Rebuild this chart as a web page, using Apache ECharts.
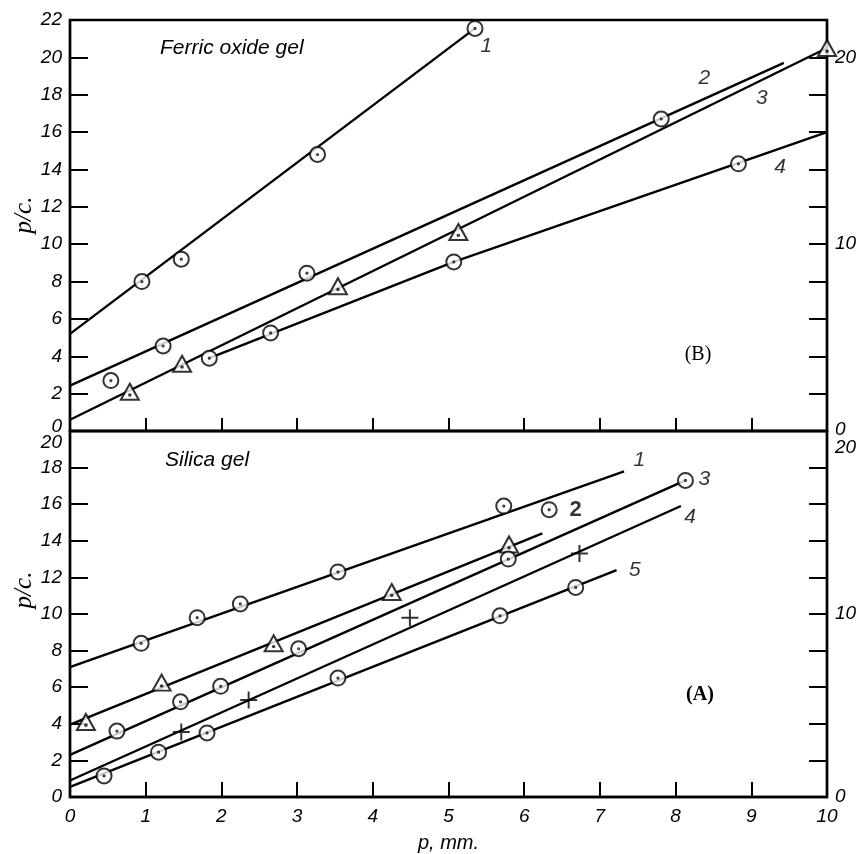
<!DOCTYPE html>
<html>
<head>
<meta charset="utf-8">
<script src="https://cdn.jsdelivr.net/npm/echarts@6/dist/echarts.min.js"></script>
<style>
  html, body { margin: 0; padding: 0; background: #fff; }
  #chart { width: 864px; height: 854px; }
</style>
</head>
<body>
<div id="chart"></div>
<script>
// (B) Ferric oxide gel — measured points and fitted lines
const ferric1Pts = [[0.95, 8.0], [1.47, 9.2], [3.27, 14.8], [5.35, 21.55]];
const ferric1Fit = [[0, 5.2], [5.35, 21.55]];
const ferric2Pts = [[1.23, 4.55], [3.13, 8.45], [7.81, 16.7]];
const ferric2Fit = [[0, 2.43], [9.43, 19.7]];
const ferric3Pts = [[0.79, 2.1], [1.48, 3.6], [3.54, 7.75], [5.13, 10.65], [10.0, 20.5]];
const ferric3Fit = [[0, 0.6], [10, 20.5]];
const ferric4Pts = [[0.54, 2.7], [1.84, 3.9], [2.65, 5.25], [5.07, 9.05], [8.83, 14.3]];
const ferric4Fit = [[1.84, 3.9], [5.07, 9.05], [10, 16.0]];
const ferricTags = [
  { value: [5.5, 20.6], name: '1' },
  { value: [8.38, 18.9], name: '2' },
  { value: [9.14, 17.8], name: '3' },
  { value: [9.38, 14.1], name: '4' }
];

// (A) Silica gel
const silica1Pts = [[0.94, 8.4], [1.68, 9.8], [2.25, 10.55], [3.54, 12.3], [5.73, 15.9]];
const silica1Fit = [[0, 7.1], [7.32, 17.8]];
const silica2Pts = [[0.21, 4.1], [1.21, 6.25], [2.69, 8.4], [4.25, 11.2], [5.8, 13.8]];
const silica2Odd = [[6.33, 15.7]];
const silica2Fit = [[0, 3.95], [6.24, 14.4]];
const silica3Pts = [[0.62, 3.6], [1.46, 5.2], [1.99, 6.05], [3.02, 8.1], [5.79, 13.0], [8.13, 17.3]];
const silica3Fit = [[0, 2.3], [8.13, 17.3]];
const silica4Pts = [[1.47, 3.55], [2.36, 5.3], [4.49, 9.8], [6.73, 13.3]];
const silica4Fit = [[0, 0.9], [8.07, 15.9]];
const silica5Pts = [[0.45, 1.15], [1.17, 2.45], [1.81, 3.5], [3.54, 6.5], [5.68, 9.9], [6.68, 11.45]];
const silica5Fit = [[0, 0.55], [7.22, 12.4]];
const silicaTags = [
  { value: [7.52, 18.4], name: '1' },
  { value: [8.38, 17.35], name: '3' },
  { value: [8.19, 15.3], name: '4' },
  { value: [7.46, 12.4], name: '5' }
];
const silicaBoldTags = [{ value: [6.68, 15.7], name: '2' }];

const pMax = [22, 20];
const rightLabels = [0, 10, 20];

// marker shapes: dotted circle, dotted triangle, plus
const DOT_CIRCLE = 'path://M0,-10A10,10 0 1,1 0,10A10,10 0 1,1 0,-10Z M0,-0.8A0.8,0.8 0 1,1 0,0.8A0.8,0.8 0 1,1 0,-0.8Z';
const DOT_TRI = 'path://M0,-10L9.5,7L-9.5,7Z M0,1.2A0.8,0.8 0 1,1 0,2.8A0.8,0.8 0 1,1 0,1.2Z';
const PLUS = 'path://M0,-10L0,10M-10,0L10,0';

const tickFont = { fontFamily: 'Liberation Sans', fontStyle: 'italic', fontSize: 19, color: '#000' };

function fit(data, grid) {
  return {
    type: 'line', data: data, xAxisIndex: grid, yAxisIndex: grid * 2,
    symbol: 'none', lineStyle: { color: '#000', width: 2.4 }, z: 2, silent: true
  };
}
function pts(data, grid, symbol, size) {
  return {
    type: 'scatter', data: data, xAxisIndex: grid, yAxisIndex: grid * 2,
    symbol: symbol, symbolSize: size, clip: false, z: 3,
    itemStyle: { color: '#fff', borderColor: '#000', borderWidth: 2 }
  };
}
function tags(data, grid, style) {
  return {
    type: 'scatter', data: data, xAxisIndex: grid, yAxisIndex: grid * 2,
    symbolSize: 0, z: 4, silent: true,
    label: Object.assign({
      show: true, position: [0, 0], align: 'center', verticalAlign: 'middle',
      formatter: p => p.name
    }, style)
  };
}

function leftAxis(grid) {
  return {
    type: 'value', gridIndex: grid, position: 'left', min: 0, max: pMax[grid], interval: 2,
    axisLine: { show: true, lineStyle: { color: '#000', width: 2.4 } },
    axisTick: { show: true, inside: true, length: 18, lineStyle: { color: '#000', width: 2 } },
    splitLine: { show: false },
    axisLabel: Object.assign({}, tickFont, {
      margin: 8,
      formatter: v => (grid === 0 && v === 0) ? '{up|0}' : (grid === 1 && v === 20) ? '{dn|20}' : String(v),
      rich: {
        up: Object.assign({}, tickFont, { padding: [0, 0, 8, 0] }),
        dn: Object.assign({}, tickFont, { padding: [24, 0, 0, 0] })
      }
    })
  };
}
function rightAxis(grid) {
  return {
    type: 'value', gridIndex: grid, position: 'right', min: 0, max: pMax[grid], interval: 2,
    axisLine: { show: true, lineStyle: { color: '#000', width: 2.4 } },
    axisTick: { show: true, inside: true, length: 18, lineStyle: { color: '#000', width: 2 } },
    splitLine: { show: false },
    axisLabel: Object.assign({}, tickFont, {
      margin: 8,
      formatter: v => {
        if (rightLabels.indexOf(v) < 0) return '';
        if (grid === 0 && v === 0) return '{up|0}';
        if (grid === 1 && v === 20) return '{dn|20}';
        return String(v);
      },
      rich: {
        up: Object.assign({}, tickFont, { padding: [0, 0, 2, 0] }),
        dn: Object.assign({}, tickFont, { padding: [34, 0, 0, 0] })
      }
    })
  };
}

const chart = echarts.init(document.getElementById('chart'), null, { renderer: 'canvas' });
chart.setOption({
  backgroundColor: '#fff',
  animation: false,
  grid: [
    { left: 70, top: 20, width: 757, height: 411, show: true, borderColor: '#000', borderWidth: 2.4 },
    { left: 70, top: 431, width: 757, height: 372, show: true, borderColor: '#000', borderWidth: 2.4 }
  ],
  xAxis: [
    {
      type: 'value', gridIndex: 0, min: 0, max: 10, interval: 1,
      axisLine: { lineStyle: { color: '#000', width: 2.4 } },
      axisTick: { inside: true, length: 13, lineStyle: { color: '#000', width: 2 } },
      axisLabel: { show: false }, splitLine: { show: false }
    },
    {
      type: 'value', gridIndex: 1, min: 0, max: 10, interval: 1,
      axisLine: { lineStyle: { color: '#000', width: 2.4 } },
      axisTick: { inside: true, length: 15, lineStyle: { color: '#000', width: 2 } },
      axisLabel: Object.assign({}, tickFont, { margin: 10 }),
      splitLine: { show: false },
      name: 'p, mm.', nameLocation: 'middle', nameGap: 36,
      nameTextStyle: { fontFamily: 'Liberation Sans', fontStyle: 'italic', fontSize: 20, color: '#000' }
    }
  ],
  yAxis: [leftAxis(0), rightAxis(0), leftAxis(1), rightAxis(1)],
  graphic: [
    { type: 'text', left: 160, top: 38, style: { text: 'Ferric oxide gel', font: 'italic 21px "Liberation Sans"', fill: '#000' } },
    { type: 'text', left: 165, top: 450, style: { text: 'Silica gel', font: 'italic 21px "Liberation Sans"', fill: '#000' } },
    { type: 'text', x: 698, y: 355, style: { text: '(B)', font: '20px "Liberation Serif"', fill: '#000', align: 'center', verticalAlign: 'middle' } },
    { type: 'text', x: 700, y: 695, style: { text: '(A)', font: 'bold 20px "Liberation Serif"', fill: '#000', align: 'center', verticalAlign: 'middle' } },
    { type: 'text', x: 24, y: 215, rotation: Math.PI / 2, style: { text: 'p/c.', font: 'italic 25px "Liberation Serif"', fill: '#000', align: 'center', verticalAlign: 'middle' } },
    { type: 'text', x: 24, y: 590, rotation: Math.PI / 2, style: { text: 'p/c.', font: 'italic 25px "Liberation Serif"', fill: '#000', align: 'center', verticalAlign: 'middle' } }
  ],
  series: [
    fit(ferric1Fit, 0), fit(ferric2Fit, 0), fit(ferric3Fit, 0), fit(ferric4Fit, 0),
    pts(ferric1Pts, 0, DOT_CIRCLE, 15),
    pts(ferric2Pts, 0, DOT_CIRCLE, 15),
    pts(ferric3Pts, 0, DOT_TRI, [18, 16]),
    pts(ferric4Pts, 0, DOT_CIRCLE, 15),
    tags(ferricTags, 0, { fontFamily: 'Liberation Sans', fontStyle: 'italic', fontSize: 21, color: '#000' }),

    fit(silica1Fit, 1), fit(silica2Fit, 1), fit(silica3Fit, 1), fit(silica4Fit, 1), fit(silica5Fit, 1),
    pts(silica1Pts, 1, DOT_CIRCLE, 15),
    pts(silica2Pts, 1, DOT_TRI, [18, 16]),
    pts(silica2Odd, 1, DOT_CIRCLE, 15),
    pts(silica3Pts, 1, DOT_CIRCLE, 15),
    pts(silica4Pts, 1, PLUS, 17),
    pts(silica5Pts, 1, DOT_CIRCLE, 15),
    tags(silicaTags, 1, { fontFamily: 'Liberation Sans', fontStyle: 'italic', fontSize: 21, color: '#000' }),
    tags(silicaBoldTags, 1, { fontFamily: 'Liberation Sans', fontWeight: 'bold', fontSize: 22, color: '#000' })
  ]
});
</script>
</body>
</html>
